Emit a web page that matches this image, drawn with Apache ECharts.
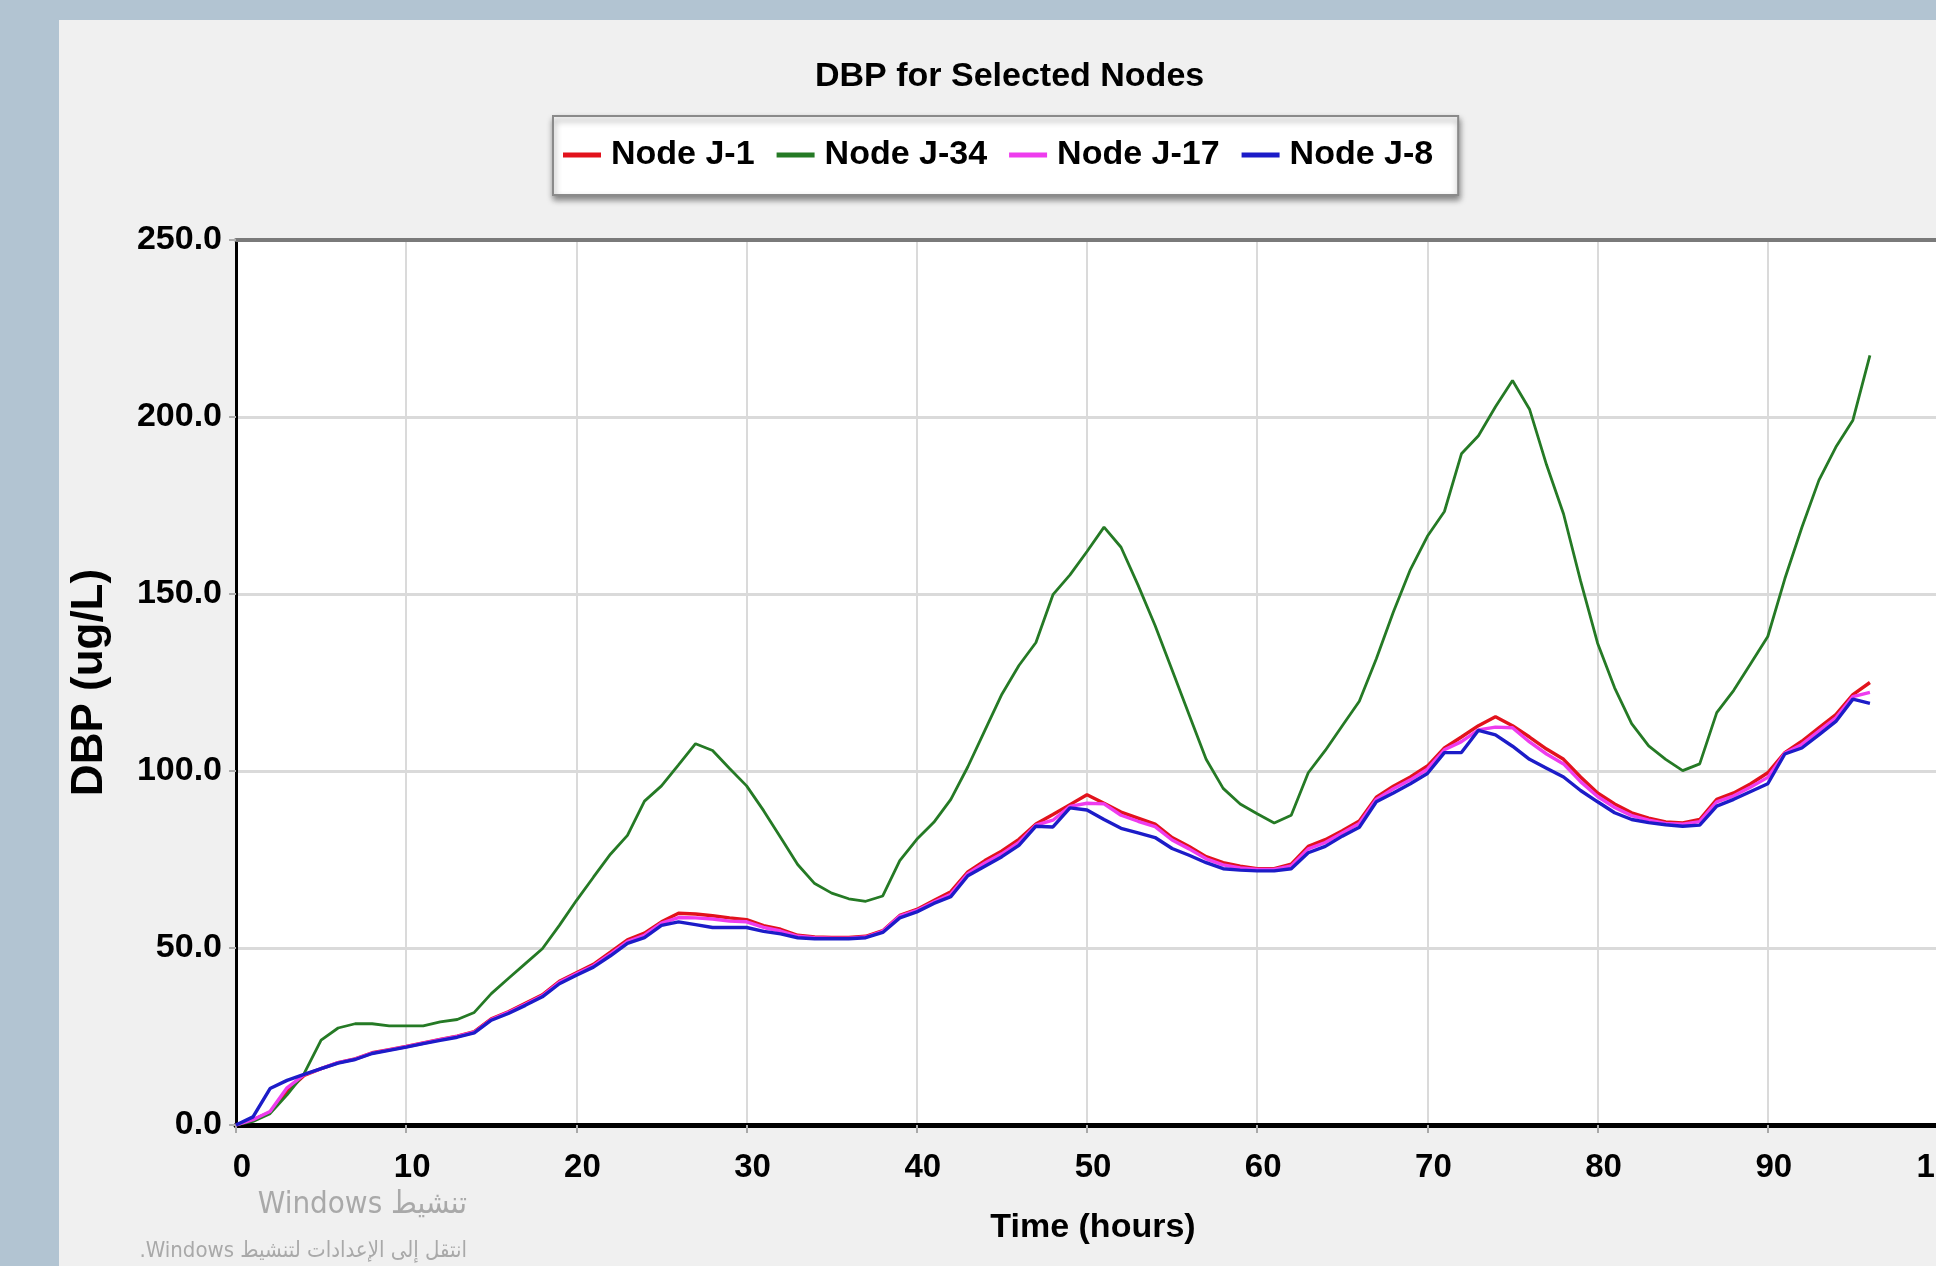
<!DOCTYPE html>
<html>
<head>
<meta charset="utf-8">
<title>DBP for Selected Nodes</title>
<script src="https://cdn.jsdelivr.net/npm/echarts@6/dist/echarts.min.js"></script>
<style>
	html, body { margin: 0; padding: 0; width: 1936px; height: 1266px; overflow: hidden; background: #b2c4d2; }
	#panel { position: absolute; left: 59px; top: 20px; width: 1939px; height: 1246px; background: #f0f0f0; }
	#chart { width: 1939px; height: 1246px; }
</style>
</head>
<body>
<div id="panel"><div id="chart"></div></div>
<script>
// hours 0..96, one reading per hour
var hours = [];
for (var h = 0; h <= 96; h++) hours.push(h);

var nodeJ1 = [0, 1.5, 3.6, 9.5, 14.0, 15.9, 17.6, 18.7, 20.4, 21.3,
	22.2, 23.2, 24.2, 25.1, 26.4, 30.0, 32.0, 34.4, 36.8, 40.6,
	43.0, 45.4, 48.8, 52.3, 54.2, 57.4, 59.8, 59.6, 59.1, 58.5,
	58.0, 56.3, 55.3, 53.6, 53.1, 53.0, 53.0, 53.3, 54.9, 59.2,
	60.9, 63.4, 65.9, 71.5, 74.7, 77.4, 80.7, 85.0, 87.7, 90.5,
	93.3, 90.9, 88.4, 86.7, 85.0, 81.2, 78.7, 75.8, 74.1, 73.1,
	72.4, 72.4, 73.7, 78.7, 80.6, 83.1, 85.9, 92.6, 95.7, 98.3,
	101.4, 106.5, 109.6, 112.8, 115.3, 112.8, 109.6, 106.2, 103.3, 98.3,
	93.8, 90.7, 88.2, 86.7, 85.6, 85.3, 86.3, 92.0, 93.8, 96.4,
	99.5, 105.2, 108.4, 112.2, 115.9, 121.6, 125.0];

var nodeJ34 = [0, 1.0, 3.2, 8.5, 14.5, 24.0, 27.4, 28.6, 28.6, 28.0,
	28.0, 28.0, 29.1, 29.8, 31.8, 37.1, 41.4, 45.6, 49.8, 56.4,
	63.4, 70.0, 76.5, 81.8, 91.5, 95.8, 101.7, 107.7, 105.8, 100.7,
	95.8, 88.8, 81.2, 73.6, 68.2, 65.5, 63.9, 63.2, 64.7, 74.7,
	80.7, 85.5, 92.0, 101.2, 111.5, 121.7, 129.8, 136.3, 149.8, 155.4,
	162.0, 168.9, 163.2, 152.5, 141.1, 128.5, 115.9, 103.3, 95.1, 90.7,
	87.9, 85.3, 87.5, 99.5, 105.8, 112.8, 119.7, 131.7, 144.9, 156.9,
	166.3, 173.3, 189.6, 194.7, 202.9, 210.3, 202.2, 186.5, 172.6, 153.7,
	136.1, 123.5, 113.4, 107.1, 103.3, 100.1, 102.0, 116.5, 122.8, 130.4,
	138.0, 154.3, 168.8, 182.1, 191.5, 199.1, 217.4];

var nodeJ17 = [0, 1.5, 3.8, 10.5, 14.2, 15.9, 17.6, 18.6, 20.3, 21.2,
	22.1, 23.1, 24.1, 25.0, 26.2, 29.8, 31.8, 34.1, 36.5, 40.3,
	42.7, 45.0, 48.3, 51.8, 53.6, 57.0, 58.6, 58.5, 58.2, 57.6,
	57.4, 55.8, 54.8, 53.3, 52.9, 52.8, 52.8, 53.1, 54.7, 59.0,
	60.6, 63.0, 65.2, 71.0, 74.0, 76.6, 79.8, 84.7, 86.1, 90.0,
	90.9, 90.7, 87.5, 85.8, 84.3, 80.5, 78.0, 75.2, 73.5, 72.6,
	72.2, 72.2, 73.2, 78.0, 79.8, 82.5, 85.2, 92.0, 95.0, 97.5,
	100.5, 106.0, 108.3, 111.6, 112.4, 112.2, 108.2, 104.8, 102.0, 97.0,
	92.8, 89.7, 87.4, 86.1, 85.2, 85.0, 85.7, 91.3, 93.0, 95.5,
	98.2, 105.0, 107.5, 111.3, 115.0, 121.0, 122.2];

var nodeJ8 = [0, 2.3, 10.3, 12.6, 14.3, 15.9, 17.5, 18.5, 20.2, 21.1,
	22.0, 23.0, 23.9, 24.8, 26.0, 29.6, 31.5, 33.8, 36.2, 39.9,
	42.3, 44.6, 47.8, 51.3, 52.9, 56.4, 57.4, 56.6, 55.8, 55.8,
	55.8, 54.7, 54.0, 52.9, 52.6, 52.6, 52.6, 52.9, 54.4, 58.5,
	60.2, 62.6, 64.5, 70.4, 73.1, 75.8, 79.0, 84.4, 84.2, 89.6,
	89.0, 86.3, 83.8, 82.5, 81.2, 78.1, 76.2, 74.1, 72.4, 72.0,
	71.8, 71.8, 72.4, 76.9, 78.7, 81.6, 84.1, 91.3, 93.8, 96.4,
	99.3, 105.2, 105.2, 111.5, 110.2, 107.0, 103.3, 100.8, 98.3, 94.5,
	91.3, 88.2, 86.3, 85.4, 84.8, 84.4, 84.7, 90.1, 92.0, 94.2,
	96.4, 104.8, 106.5, 110.2, 114.0, 120.3, 119.1];

var seriesNames = ['Node J-1', 'Node J-34', 'Node J-17', 'Node J-8'];
var seriesColors = ['#e2121c', '#257a25', '#ee3cee', '#1c1cc8'];
var lineWidths = [3.4, 2.8, 3.4, 3.4];

var font = "'Liberation Sans', Arial, sans-serif";

function pairs(vals) {
	var out = [];
	for (var i = 0; i < vals.length; i++) out.push([hours[i], vals[i]]);
	return out;
}

var chart = echarts.init(document.getElementById('chart'), null, { renderer: 'canvas' });

var allData = [nodeJ1, nodeJ34, nodeJ17, nodeJ8];
var series = [];
for (var s = 0; s < allData.length; s++) {
	series.push({
		name: seriesNames[s],
		type: 'line',
		data: pairs(allData[s]),
		showSymbol: false,
		symbol: 'none',
		smooth: false,
		z: 2 + s,
		lineStyle: { color: seriesColors[s], width: lineWidths[s] },
		itemStyle: { color: seriesColors[s] }
	});
}

var option = {
	animation: false,
	title: {
		text: 'DBP for Selected Nodes',
		left: 756,
		top: 40,
		padding: 0,
		textStyle: { fontFamily: font, fontWeight: 'bold', fontSize: 34, color: '#000' }
	},
	legend: {
		left: 494,
		top: 96,
		icon: 'rect',
		itemWidth: 38,
		itemHeight: 5,
		itemGap: 22,
		padding: [22, 25, 23, 10],
		backgroundColor: '#fff',
		borderColor: '#8a8a8a',
		borderWidth: 2,
		shadowColor: 'rgba(0,0,0,0.45)',
		shadowBlur: 6,
		shadowOffsetX: 1,
		shadowOffsetY: 4,
		textStyle: { fontFamily: font, fontWeight: 'bold', fontSize: 34, color: '#000', padding: [0, 0, 0, 5] },
		data: seriesNames
	},
	grid: {
		left: 177,
		top: 220,
		width: 1702,
		height: 885,
		outerBoundsMode: 'none',
		containLabel: false,
		show: true,
		backgroundColor: '#fff',
		borderWidth: 0
	},
	xAxis: [{
		type: 'value',
		min: 0,
		max: 100,
		interval: 10,
		name: 'Time (hours)',
		nameLocation: 'middle',
		nameGap: 86,
		nameTextStyle: { fontFamily: font, fontWeight: 'bold', fontSize: 34, color: '#000', padding: [0, 0, 0, 12] },
		axisLine: { show: true, lineStyle: { color: '#000', width: 5 } },
		axisTick: { show: true, length: 8, lineStyle: { color: '#a8a8a8', width: 2 } },
		axisLabel: { fontFamily: font, fontWeight: 'bold', fontSize: 33, color: '#000', margin: 26, padding: [0, 0, 0, 12] },
		splitLine: { show: true, lineStyle: { color: '#dadada', width: 2 } }
	}, {
		type: 'value',
		position: 'top',
		min: 0,
		max: 100,
		interval: 10,
		axisLine: { show: true, lineStyle: { color: '#7a7a7a', width: 4 } },
		axisTick: { show: false },
		axisLabel: { show: false },
		splitLine: { show: false }
	}],
	yAxis: {
		type: 'value',
		min: 0,
		max: 250,
		interval: 50,
		name: 'DBP (ug/L)',
		nameLocation: 'middle',
		nameGap: 124,
		nameRotate: 90,
		nameTextStyle: { fontFamily: font, fontWeight: 'bold', fontSize: 44, color: '#000' },
		axisLine: { show: true, lineStyle: { color: '#000', width: 3 } },
		axisTick: { show: true, length: 7, lineStyle: { color: '#b0b0b0', width: 2 } },
		axisLabel: {
			fontFamily: font, fontWeight: 'bold', fontSize: 34, color: '#000', margin: 14,
			formatter: function(v) { return v.toFixed(1); }
		},
		splitLine: { show: true, lineStyle: { color: '#dadada', width: 3 } }
	},
	graphic: [{
		type: 'text',
		x: 408,
		y: 1185,
		style: {
			text: 'Windows تنشيط',
			align: 'right',
			verticalAlign: 'middle',
			fontFamily: "'DejaVu Sans Condensed', sans-serif",
			fontSize: 31,
			fill: '#a9a9a9'
		}
	}, {
		type: 'text',
		x: 408,
		y: 1231,
		style: {
			text: '.Windows انتقل إلى الإعدادات لتنشيط',
			align: 'right',
			verticalAlign: 'middle',
			fontFamily: "'DejaVu Sans Condensed', sans-serif",
			fontSize: 22,
			fill: '#a9a9a9'
		}
	}],
	series: series
};

chart.setOption(option);
</script>
</body>
</html>
